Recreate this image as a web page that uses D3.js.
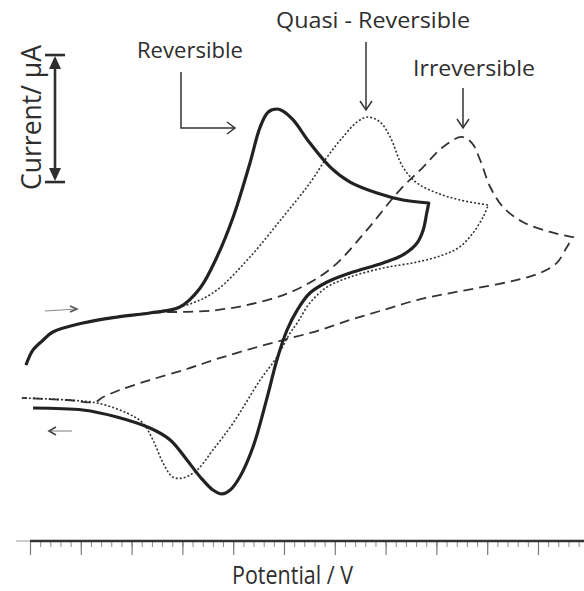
<!DOCTYPE html>
<html>
<head>
<meta charset="utf-8">
<script src="https://cdn.jsdelivr.net/npm/d3@7"></script>
<style>
  html, body { margin: 0; padding: 0; background: #fff; }
  svg { display: block; }
  text { font-family: "Open Sans", "Noto Sans", sans-serif; fill: #2e2e2e; }
</style>
</head>
<body>
<svg id="chart" width="584" height="591"></svg>
<script>
// ---- Data: potential (V) and current (µA) ----
const reversibleForward = [
  [-0.008,-2.76],[0.006,-1.57],[0.026,-0.79],[0.045,-0.16],[0.104,0.55],[0.171,1.02],
  [0.236,1.34],[0.295,1.81],[0.335,3.31],[0.368,5.75],[0.400,8.90],[0.433,13.15],
  [0.453,15.98],[0.469,17.17],[0.486,17.40],[0.498,17.24],[0.518,16.54],[0.551,14.72],
  [0.591,12.83],[0.630,11.65],[0.683,10.79],[0.734,10.24],[0.785,10.00]
];
const reversibleReverse = [
  [0.785,10.00],[0.781,9.21],[0.774,7.87],[0.762,6.85],[0.734,5.91],[0.695,5.28],
  [0.630,4.49],[0.585,3.78],[0.551,2.91],[0.526,1.57],[0.506,0.00],[0.486,-2.36],
  [0.467,-5.28],[0.439,-9.21],[0.413,-11.57],[0.394,-12.60],[0.378,-12.91],[0.360,-12.60],
  [0.335,-11.57],[0.309,-10.24],[0.276,-8.66],[0.236,-7.72],[0.171,-6.85],[0.104,-6.30],
  [0.006,-6.14]
];
const quasiForward = [
  [-0.008,-2.76],[0.006,-1.57],[0.026,-0.79],[0.045,-0.16],[0.104,0.55],[0.171,1.02],
  [0.236,1.34],[0.321,2.13],[0.368,3.15],[0.433,5.75],[0.498,8.90],[0.551,11.57],
  [0.585,13.62],[0.616,15.20],[0.644,16.38],[0.665,16.77],[0.689,16.38],[0.709,15.20],
  [0.734,12.83],[0.762,11.57],[0.801,10.79],[0.846,10.24],[0.902,9.84]
];
const quasiReverse = [
  [0.902,9.84],[0.892,8.90],[0.872,7.64],[0.846,6.54],[0.813,5.91],[0.762,5.35],
  [0.695,4.88],[0.630,4.17],[0.585,3.39],[0.551,2.13],[0.526,0.55],[0.512,-0.24],
  [0.486,-2.13],[0.453,-3.94],[0.400,-7.32],[0.360,-9.45],[0.329,-11.02],[0.301,-11.65],
  [0.281,-11.57],[0.262,-10.47],[0.242,-8.66],[0.222,-7.32],[0.191,-6.54],[0.132,-5.75],
  [0.073,-5.51],[-0.016,-5.35]
];
const irreversibleForward = [
  [-0.008,-2.76],[0.006,-1.57],[0.026,-0.79],[0.045,-0.16],[0.104,0.55],[0.171,1.02],
  [0.236,1.34],[0.368,1.57],[0.467,2.36],[0.531,3.31],[0.596,4.96],[0.663,7.87],
  [0.728,11.02],[0.774,12.83],[0.813,14.41],[0.850,15.20],[0.870,14.72],[0.886,13.39],
  [0.906,11.26],[0.931,9.69],[0.970,8.50],[1.024,7.72],[1.069,7.32]
];
const irreversibleReverse = [
  [1.069,7.32],[1.057,6.54],[1.037,5.28],[1.004,4.49],[0.959,3.94],[0.892,3.39],
  [0.827,2.91],[0.762,2.36],[0.695,1.57],[0.630,0.79],[0.565,-0.08],[0.498,-0.79],
  [0.433,-1.50],[0.368,-2.28],[0.309,-3.07],[0.236,-3.94],[0.177,-4.72],[0.144,-5.28],
  [0.128,-5.67],[0.073,-5.51],[-0.016,-5.35]
];
const curveLabels = ["Reversible", "Quasi - Reversible", "Irreversible"];
const xAxisTitle = "Potential / V";
const yAxisTitle = "Current/ µA";
const minorTicks = d3.range(0, 1.09, 0.02);
const majorTicks = d3.range(0, 1.09, 0.1);
const scaleBarRange = [11.65, 21.65]; // 10 µA scale bar
const xStart = -0.0276, xEnd = 1.0906;

// ---- Scales ----
const svg = d3.select("#chart");
const x = d3.scaleLinear().domain([0, 1]).range([30, 538]);
const y = d3.scaleLinear().domain([0, 10]).range([330, 203]);

const ink = "#2e2e2e";

// ---- x axis ----
const axisY = 541;
const axisG = svg.append("g").attr("transform", `translate(0,${axisY})`);
axisG.append("g")
  .call(d3.axisBottom(x).tickValues(minorTicks).tickSize(6).tickSizeOuter(0).tickFormat(""))
  .call(g => g.select(".domain").remove())
  .call(g => g.selectAll("line").attr("stroke", "#8a8a8a").attr("stroke-width", 1));
axisG.append("g")
  .call(d3.axisBottom(x).tickValues(majorTicks).tickSize(14).tickSizeOuter(0).tickFormat(""))
  .call(g => g.select(".domain").remove())
  .call(g => g.selectAll("line").attr("stroke", "#7a7a7a").attr("stroke-width", 1.2));
axisG.append("line").attr("x1", x(xStart)).attr("x2", x(0)).attr("y1", 0).attr("y2", 0)
  .attr("stroke", "#9a9a9a").attr("stroke-width", 1);
axisG.append("line").attr("x1", x(0)).attr("x2", x(xEnd)).attr("y1", 0).attr("y2", 0)
  .attr("stroke", "#333").attr("stroke-width", 2.6);

svg.append("text").attr("x", 232).attr("y", 584)
  .attr("font-size", 26).attr("textLength", 121).attr("lengthAdjust", "spacingAndGlyphs")
  .text(xAxisTitle);

// ---- y title and scale bar ----
svg.append("text").attr("transform", "translate(41,190) rotate(-90)")
  .attr("font-size", 27).attr("textLength", 145).attr("lengthAdjust", "spacingAndGlyphs")
  .text(yAxisTitle);

const barX = 55;
const yb0 = y(scaleBarRange[0]), yb1 = y(scaleBarRange[1]);
svg.append("line").attr("x1", barX).attr("x2", barX).attr("y1", yb1 + 4).attr("y2", yb0 - 4)
  .attr("stroke", ink).attr("stroke-width", 2.6);
[[yb1, 1], [yb0, -1]].forEach(([yy, dir]) => {
  svg.append("line").attr("x1", barX - 10).attr("x2", barX + 10).attr("y1", yy).attr("y2", yy)
    .attr("stroke", ink).attr("stroke-width", 2.6);
  svg.append("path")
    .attr("d", `M${barX},${yy + dir * 1} L${barX - 6},${yy + dir * 14} L${barX + 6},${yy + dir * 14} Z`)
    .attr("fill", ink);
});

// ---- curves ----
const line = d3.line().x(d => x(d[0])).y(d => y(d[1])).curve(d3.curveCatmullRom.alpha(0.5));
function cv(fwd, rev) { return line(fwd) + line(rev).replace(/^M/, "L"); }

svg.append("path").attr("d", cv(irreversibleForward, irreversibleReverse))
  .attr("fill", "none").attr("stroke", "#333").attr("stroke-width", 1.8)
  .attr("stroke-dasharray", "10,6");
svg.append("path").attr("d", cv(quasiForward, quasiReverse))
  .attr("fill", "none").attr("stroke", "#333").attr("stroke-width", 1.6)
  .attr("stroke-dasharray", "2,2");
svg.append("path").attr("d", cv(reversibleForward, reversibleReverse))
  .attr("fill", "none").attr("stroke", "#222").attr("stroke-width", 3.2)
  .attr("stroke-linejoin", "round");

// ---- annotations ----
const annG = svg.append("g").attr("stroke", "#333").attr("stroke-width", 1.5).attr("fill", "none");
annG.append("path").attr("d", "M181,72 L181,128 L235,128");
annG.append("path").attr("d", "M227,122 L235,128 L227,134");
annG.append("path").attr("d", "M366,42 L366,110");
annG.append("path").attr("d", "M360,101 L366,110 L372,101");
annG.append("path").attr("d", "M463,88 L463,128");
annG.append("path").attr("d", "M457,119 L463,128 L469,119");

const labelPos = [[137, 58, 106], [276, 28, 194], [413, 76, 122]];
curveLabels.forEach((t, i) => {
  svg.append("text").attr("x", labelPos[i][0]).attr("y", labelPos[i][1])
    .attr("font-size", 22).attr("textLength", labelPos[i][2])
    .attr("lengthAdjust", "spacingAndGlyphs").text(t);
});

// direction arrows
const dirG = svg.append("g").attr("stroke", "#888").attr("stroke-width", 1.1).attr("fill", "none");
dirG.append("path").attr("d", "M45,311 L77,309");
dirG.append("path").attr("d", "M70,306 L77,309 L70,312").attr("stroke", "#555").attr("stroke-width", 1.5);
dirG.append("path").attr("d", "M72,431 L49,431");
dirG.append("path").attr("d", "M56,427 L49,431 L56,435").attr("stroke", "#444").attr("stroke-width", 1.6);
</script>
</body>
</html>
